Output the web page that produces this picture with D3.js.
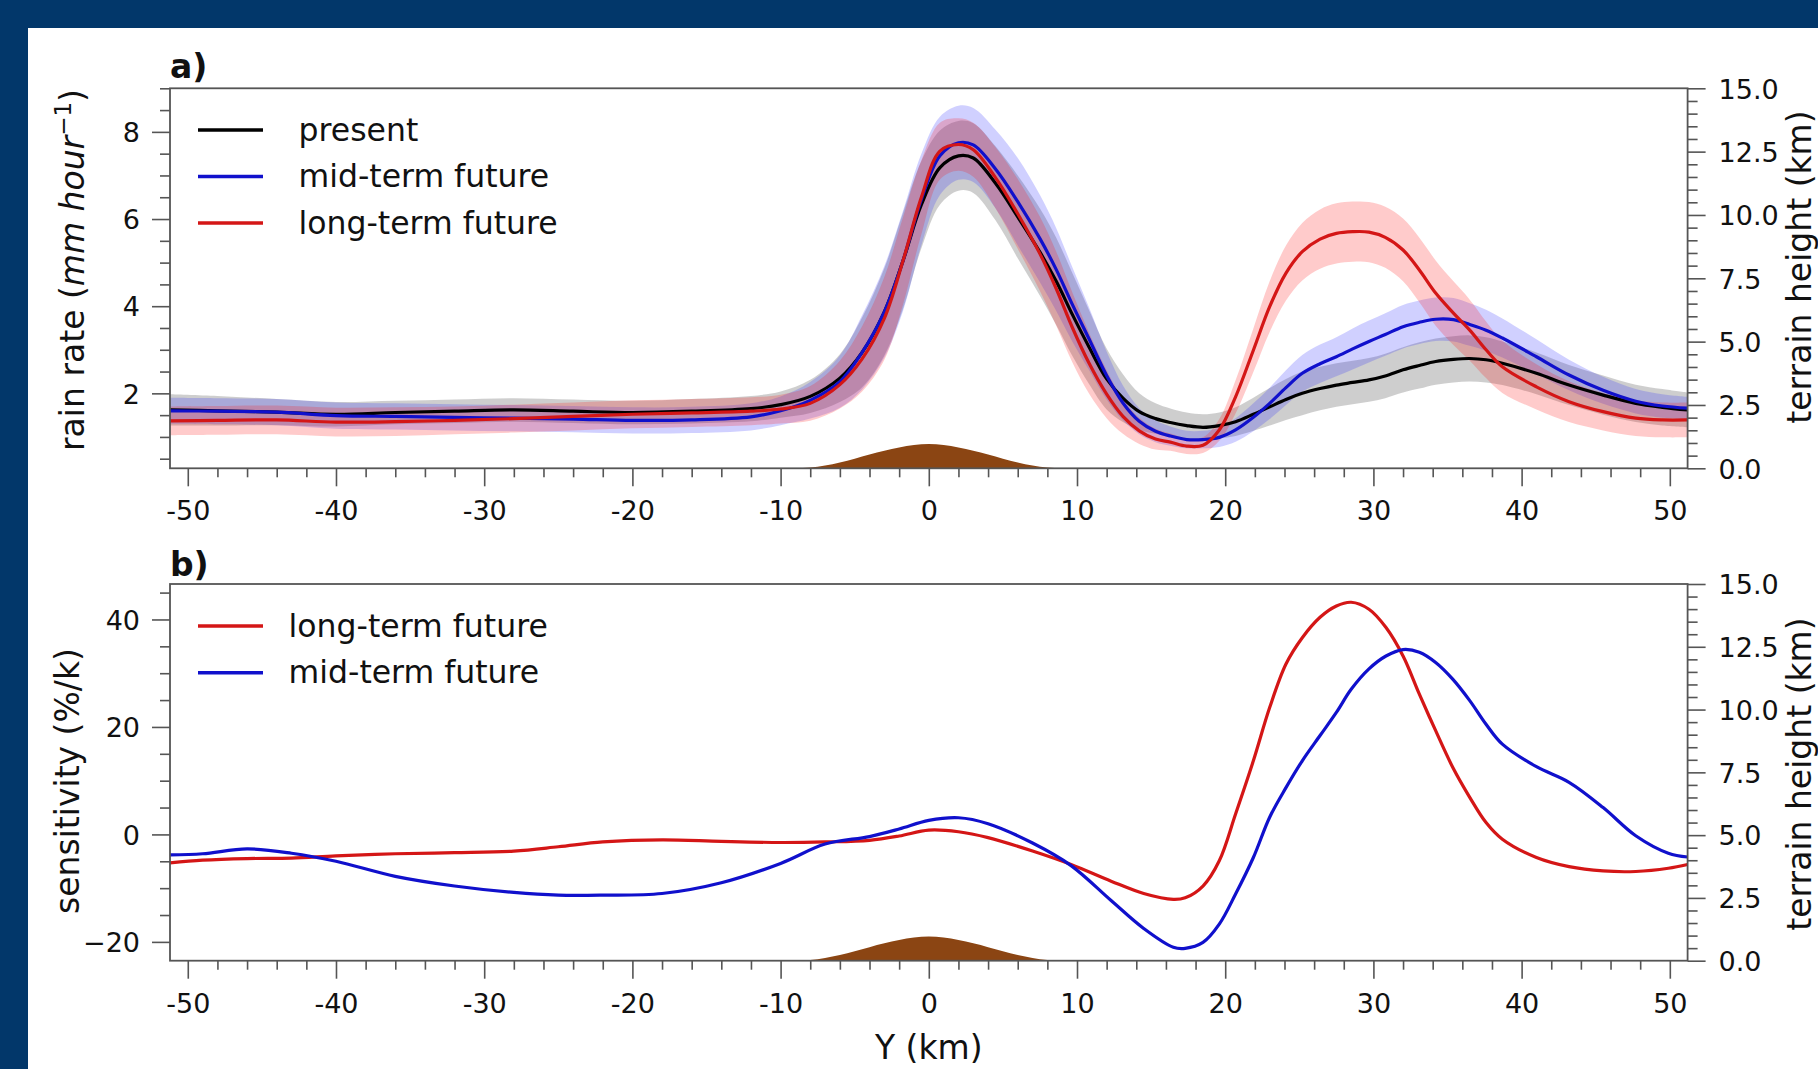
<!DOCTYPE html>
<html>
<head>
<meta charset="utf-8">
<script src="https://cdn.jsdelivr.net/npm/d3@7"></script>
<style>
  html, body { margin: 0; padding: 0; background: #02376a; }
  svg { display: block; }
  text { font-family: 'DejaVu Sans', sans-serif; }
</style>
</head>
<body>
<svg id="chart" width="1818" height="1069"></svg>
<script>
// ── Data: panel a, rain rate (mm/h) along Y (km) ─────────────────────────
const yKm = [-51.2, -48, -44, -40, -36, -32, -28, -24, -20, -16, -12, -10, -8, -6, -4.5, -3, -1.75, -0.5,
  0.75, 2, 3, 4.5, 6, 7.5, 8.6, 9.7, 10.8, 12, 13.1, 14.2, 15.3, 16.3, 17.4, 18.5, 19.6, 20.7, 21.9, 23,
  24.1, 25.2, 26.4, 27.5, 28.6, 29.7, 30.8, 32, 33.1, 34.2, 35.4, 36.5, 37.6, 38.7, 41, 43.2, 45.5, 47.7, 49.5, 51.2];

const rainPresent = [1.62, 1.60, 1.57, 1.52, 1.56, 1.59, 1.62, 1.59, 1.56, 1.59, 1.65, 1.74, 1.93, 2.35, 2.94, 3.87,
  5.03, 6.33, 7.18, 7.45, 7.40, 6.82, 6.05, 5.24, 4.57, 3.80, 3.07, 2.33, 1.89, 1.58, 1.42, 1.33, 1.26, 1.22, 1.26,
  1.35, 1.52, 1.69, 1.86, 2.00, 2.11, 2.19, 2.25, 2.31, 2.40, 2.54, 2.64, 2.73, 2.78, 2.80, 2.77, 2.69, 2.46, 2.19,
  1.96, 1.77, 1.68, 1.62];
const rainMid = [1.60, 1.59, 1.57, 1.49, 1.47, 1.45, 1.43, 1.41, 1.38, 1.39, 1.46, 1.60, 1.84, 2.27, 2.94, 3.87,
  5.03, 6.45, 7.45, 7.75, 7.70, 7.15, 6.40, 5.55, 4.84, 4.03, 3.26, 2.41, 1.78, 1.36, 1.13, 1.02, 0.94, 0.94, 0.99,
  1.16, 1.45, 1.77, 2.13, 2.46, 2.68, 2.84, 3.02, 3.19, 3.35, 3.53, 3.63, 3.70, 3.69, 3.58, 3.45, 3.27, 2.84, 2.42,
  2.07, 1.82, 1.71, 1.66];
const rainLong = [1.37, 1.38, 1.39, 1.34, 1.35, 1.38, 1.42, 1.47, 1.52, 1.55, 1.59, 1.64, 1.77, 2.20, 2.79, 3.72,
  5.03, 6.50, 7.56, 7.71, 7.59, 6.95, 6.12, 5.20, 4.40, 3.50, 2.70, 1.98, 1.47, 1.14, 0.95, 0.88, 0.79, 0.81, 1.16,
  1.92, 2.99, 3.99, 4.76, 5.25, 5.54, 5.67, 5.71, 5.70, 5.58, 5.29, 4.83, 4.30, 3.84, 3.45, 3.00, 2.61, 2.15, 1.81,
  1.58, 1.43, 1.39, 1.39];

// half-width of the shaded ensemble spread
const spreadPresent = [0.36, 0.34, 0.30, 0.28, 0.27, 0.27, 0.27, 0.27, 0.27, 0.28, 0.29, 0.30, 0.38, 0.55, 0.80, 1.00,
  1.10, 1.00, 0.85, 0.80, 0.80, 0.85, 0.95, 1.00, 1.00, 0.95, 0.85, 0.70, 0.55, 0.42, 0.35, 0.32, 0.30, 0.30, 0.30,
  0.33, 0.38, 0.43, 0.47, 0.50, 0.50, 0.50, 0.50, 0.50, 0.51, 0.52, 0.53, 0.53, 0.53, 0.53, 0.52, 0.50, 0.48, 0.46,
  0.45, 0.43, 0.42, 0.40];
const spreadMid = [0.30, 0.30, 0.30, 0.30, 0.30, 0.30, 0.30, 0.30, 0.30, 0.30, 0.31, 0.33, 0.42, 0.60, 0.85, 1.05,
  1.15, 1.05, 0.90, 0.85, 0.85, 0.90, 1.00, 1.00, 0.95, 0.85, 0.72, 0.55, 0.40, 0.30, 0.25, 0.22, 0.20, 0.20, 0.22,
  0.27, 0.32, 0.36, 0.40, 0.42, 0.44, 0.45, 0.47, 0.48, 0.49, 0.50, 0.50, 0.50, 0.50, 0.49, 0.47, 0.45, 0.40, 0.35,
  0.31, 0.28, 0.27, 0.26];
const spreadLong = [0.33, 0.33, 0.33, 0.33, 0.33, 0.32, 0.32, 0.32, 0.32, 0.32, 0.32, 0.33, 0.40, 0.55, 0.75, 0.95,
  1.00, 0.85, 0.65, 0.60, 0.62, 0.70, 0.80, 0.85, 0.85, 0.80, 0.70, 0.55, 0.40, 0.30, 0.24, 0.20, 0.18, 0.18, 0.25,
  0.38, 0.50, 0.58, 0.63, 0.66, 0.68, 0.69, 0.69, 0.69, 0.70, 0.72, 0.74, 0.75, 0.73, 0.70, 0.65, 0.60, 0.52, 0.47,
  0.43, 0.41, 0.40, 0.40];

// ── Data: panel b, sensitivity (%/K) ────────────────────────────────────
const sensKm = [-51.2, -49, -46, -43, -40, -36, -32, -28, -25, -22, -18, -14, -10, -7, -4, -2, 0, 2, 4, 7, 9.6,
  12.3, 14.5, 16.5, 17.3, 18.5, 19.6, 20.7, 21.9, 23, 24.1, 25.2, 26.4, 27.5, 28.5, 29.7, 30.85, 32, 33.1, 34.2,
  35.35, 36.5, 37.6, 38.7, 41, 43.2, 45.5, 47.7, 49.9, 51.2];
const sensLong = [-5.3, -4.8, -4.5, -4.4, -4.0, -3.6, -3.4, -3.1, -2.3, -1.4, -1.0, -1.3, -1.5, -1.4, -1.1, -0.3,
  0.8, 0.5, -0.6, -3.1, -5.6, -8.7, -11.0, -12.1, -11.8, -9.6, -4.9, 3.8, 13.7, 23.6, 31.7, 36.6, 40.4, 42.5, 43.2,
  41.9, 38.5, 33.2, 26.1, 19.3, 12.5, 6.9, 2.2, -0.9, -4.3, -6.0, -6.8, -6.9, -6.3, -5.6];
const sensMid = [-3.8, -3.6, -2.7, -3.5, -5.0, -7.8, -9.6, -10.8, -11.3, -11.3, -11.0, -9.0, -5.4, -1.8, -0.4, 1.0,
  2.6, 3.1, 2.0, -1.6, -5.8, -12.3, -17.5, -21.0, -21.2, -20.1, -16.7, -11.1, -4.3, 3.2, 8.7, 13.7, 18.4, 22.7, 27.0,
  30.8, 33.2, 34.4, 33.9, 32.0, 28.9, 24.9, 20.5, 16.8, 12.6, 9.7, 5.0, -0.25, -3.5, -4.2];

// ── Terrain (km), right axis ────────────────────────────────────────────
const terrainKm = [-9, -8, -7, -6, -5, -4, -3, -2, -1, 0, 1, 2, 3, 4, 5, 6, 7, 8, 9];
const terrainH = [0, 0.03, 0.11, 0.23, 0.38, 0.54, 0.69, 0.82, 0.92, 0.96, 0.92, 0.82, 0.69, 0.54, 0.38, 0.23, 0.11, 0.03, 0];

// ── Ticks ───────────────────────────────────────────────────────────────
const xMajor = [-50, -40, -30, -20, -10, 0, 10, 20, 30, 40, 50];
const rainMajor = [2, 4, 6, 8];
const sensMajor = [-20, 0, 20, 40];
const terrainMajor = [0, 2.5, 5, 7.5, 10, 12.5, 15];

const COLORS = { present: '#000000', mid: '#1010cc', long: '#d41616' };
const BANDS = { present: 'rgba(120,120,120,0.36)', mid: 'rgba(40,40,255,0.22)', long: 'rgba(255,20,20,0.22)' };
const AXIS = '#555';
const CURVE = d3.curveCatmullRom.alpha(0.5);

const W = 1818, H = 1069;
const L = 170, R = 1687.6;
const svg = d3.select('#chart');
svg.append('rect').attr('x', 28).attr('y', 28).attr('width', W - 28).attr('height', H - 28).attr('fill', '#fff');

const x = d3.scaleLinear().domain([-51.2, 51.2]).range([L, R]);

// ── Axis helpers ────────────────────────────────────────────────────────
function styleAxis(s) {
  s.select('.domain').remove();
  s.selectAll('line').attr('stroke', AXIS).attr('stroke-width', 1.6);
  s.selectAll('text').attr('fill', '#111').attr('font-family', 'DejaVu Sans').attr('font-size', 27);
}

function xAxis(top, bottom) {
  const minor = d3.range(-50, 51, 2).filter(v => v % 10 !== 0);
  svg.append('g').attr('transform', `translate(0,${bottom})`)
    .call(d3.axisBottom(x).tickValues(minor).tickSize(9).tickFormat(''))
    .call(styleAxis);
  svg.append('g').attr('transform', `translate(0,${bottom})`)
    .call(d3.axisBottom(x).tickValues(xMajor).tickSize(18).tickFormat(d => String(d)))
    .call(styleAxis)
    .call(s => s.selectAll('text').attr('y', 52).attr('dy', null));
}

function leftAxis(y, major, minor) {
  svg.append('g').attr('transform', `translate(${L},0)`)
    .call(d3.axisLeft(y).tickValues(minor).tickSize(10).tickFormat(''))
    .call(styleAxis);
  svg.append('g').attr('transform', `translate(${L},0)`)
    .call(d3.axisLeft(y).tickValues(major).tickSize(18).tickFormat(d3.format('d')))
    .call(styleAxis)
    .call(s => s.selectAll('text').attr('x', -30).attr('dy', '0.36em'));
}

function rightAxis(yt) {
  const minor = d3.range(0, 31).map(i => i / 2).filter(v => v % 2.5 !== 0);
  svg.append('g').attr('transform', `translate(${R},0)`)
    .call(d3.axisRight(yt).tickValues(minor).tickSize(10).tickFormat(''))
    .call(styleAxis);
  svg.append('g').attr('transform', `translate(${R},0)`)
    .call(d3.axisRight(yt).tickValues(terrainMajor).tickSize(18).tickFormat(d3.format('.1f')))
    .call(styleAxis)
    .call(s => s.selectAll('text').attr('x', 31).attr('dy', '0.36em'));
}

function spines(top, bottom) {
  svg.append('rect').attr('x', L).attr('y', top).attr('width', R - L).attr('height', bottom - top)
    .attr('fill', 'none').attr('stroke', AXIS).attr('stroke-width', 1.8);
}

function terrain(yt) {
  const area = d3.area().x((d, i) => x(terrainKm[i])).y0(yt(0)).y1(d => yt(d)).curve(d3.curveMonotoneX);
  svg.append('path').attr('d', area(terrainH)).attr('fill', '#8b4513');
}

function legend(items, x0, x1, tx, y0, gap) {
  items.forEach((it, i) => {
    const yy = y0 + i * gap;
    svg.append('line').attr('x1', x0).attr('x2', x1).attr('y1', yy).attr('y2', yy)
      .attr('stroke', it.color).attr('stroke-width', 3.4);
    svg.append('text').attr('x', tx).attr('y', yy + 10.5).attr('font-size', 31.5).attr('fill', '#111').text(it.label);
  });
}

function vLabel(cx, cy, size) {
  return svg.append('text').attr('transform', `translate(${cx},${cy}) rotate(-90)`)
    .attr('text-anchor', 'middle').attr('font-size', size).attr('fill', '#111');
}

// ── Panel a ─────────────────────────────────────────────────────────────
{
  const top = 88.3, bottom = 468.3;
  const y = d3.scaleLinear().domain([0.28, 9.0]).range([bottom, top]);
  const yt = d3.scaleLinear().domain([0, 15]).range([bottom, top]);

  const series = [
    { key: 'present', v: rainPresent, sd: spreadPresent },
    { key: 'mid', v: rainMid, sd: spreadMid },
    { key: 'long', v: rainLong, sd: spreadLong },
  ];
  const band = s => d3.area().x((d, i) => x(yKm[i]))
    .y0((d, i) => y(d - s.sd[i])).y1((d, i) => y(d + s.sd[i])).curve(CURVE);
  const line = d3.line().x((d, i) => x(yKm[i])).y(d => y(d)).curve(CURVE);

  series.forEach(s => svg.append('path').attr('d', band(s)(s.v)).attr('fill', BANDS[s.key]));
  series.forEach(s => svg.append('path').attr('d', line(s.v)).attr('fill', 'none')
    .attr('stroke', COLORS[s.key]).attr('stroke-width', 3.2));

  terrain(yt);
  spines(top, bottom);
  xAxis(top, bottom);
  const minor = d3.range(1, 19).map(i => i / 2).filter(v => v % 2 !== 0);
  leftAxis(y, rainMajor, minor);
  rightAxis(yt);

  legend([
    { label: 'present', color: COLORS.present },
    { label: 'mid-term future', color: COLORS.mid },
    { label: 'long-term future', color: COLORS.long },
  ], 198, 263, 298.5, 130, 46.5);

  svg.append('text').attr('x', 170).attr('y', 78).attr('font-size', 33).attr('font-weight', 'bold')
    .attr('fill', '#111').text('a)');

  const lab = vLabel(84, 270, 33);
  lab.append('tspan').text('rain rate (');
  lab.append('tspan').attr('font-style', 'italic').text('mm hour');
  lab.append('tspan').attr('font-size', 23).attr('dy', -13).text('\u22121');
  lab.append('tspan').attr('dy', 13).text(')');

  vLabel(1811, 267, 33).text('terrain height (km)');
}

// ── Panel b ─────────────────────────────────────────────────────────────
{
  const top = 584, bottom = 960.7;
  const y = d3.scaleLinear().domain([-23.5, 46.6]).range([bottom, top]);
  const yt = d3.scaleLinear().domain([0, 15]).range([bottom, top]);
  const line = d3.line().x((d, i) => x(sensKm[i])).y(d => y(d)).curve(CURVE);

  svg.append('path').attr('d', line(sensLong)).attr('fill', 'none').attr('stroke', COLORS.long).attr('stroke-width', 3.2);
  svg.append('path').attr('d', line(sensMid)).attr('fill', 'none').attr('stroke', COLORS.mid).attr('stroke-width', 3.2);

  terrain(yt);
  spines(top, bottom);
  xAxis(top, bottom);
  const minor = d3.range(-20, 46, 5).filter(v => v % 20 !== 0);
  leftAxis(y, sensMajor, minor);
  rightAxis(yt);

  legend([
    { label: 'long-term future', color: COLORS.long },
    { label: 'mid-term future', color: COLORS.mid },
  ], 198, 263, 288.6, 626, 46.7);

  svg.append('text').attr('x', 170).attr('y', 576).attr('font-size', 33).attr('font-weight', 'bold')
    .attr('fill', '#111').text('b)');

  vLabel(79, 781, 33).text('sensitivity (%/k)');
  vLabel(1811, 774, 33).text('terrain height (km)');

  svg.append('text').attr('x', x(0)).attr('y', 1059).attr('text-anchor', 'middle')
    .attr('font-size', 33).attr('fill', '#111').text('Y (km)');
}
</script>
</body>
</html>
